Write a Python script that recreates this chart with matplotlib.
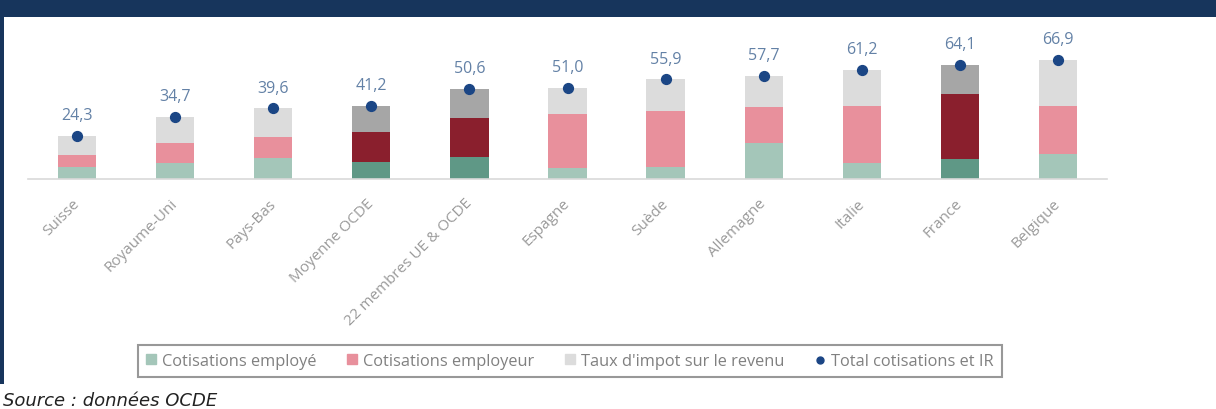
import numpy as np
import matplotlib.pyplot as plt
from matplotlib.patches import Rectangle, Patch
from matplotlib.lines import Line2D

# data (%)
pays = ['Suisse', 'Royaume-Uni', 'Pays-Bas', 'Moyenne OCDE', '22 membres UE & OCDE',
        'Espagne', 'Suède', 'Allemagne', 'Italie', 'France', 'Belgique']
employe = [6.4, 9.0, 11.8, 9.3, 12.1, 6.2, 6.7, 20.2, 9.0, 11.0, 13.7]
employeur = [6.7, 11.3, 11.8, 16.9, 22.0, 30.2, 31.6, 20.0, 32.1, 36.6, 27.3]
impot = [11.2, 14.4, 16.0, 15.0, 16.5, 14.6, 17.6, 17.5, 20.1, 16.5, 25.9]
total = [24.3, 34.7, 39.6, 41.2, 50.6, 51.0, 55.9, 57.7, 61.2, 64.1, 66.9]
mis_en_avant = ['Moyenne OCDE', '22 membres UE & OCDE', 'France']

navy = '#17355c'
c_emp = ['#5f9886' if p in mis_en_avant else '#a4c6b9' for p in pays]
c_pat = ['#8a1f2d' if p in mis_en_avant else '#e8909c' for p in pays]
c_imp = ['#a6a6a6' if p in mis_en_avant else '#dcdcdc' for p in pays]

fig = plt.figure(figsize=(12.16, 4.10), dpi=100)
fig.patch.set_facecolor('white')

# navy frame (top band + left strip)
fig.patches.append(Rectangle((0, 1 - 18 / 410), 1, 18 / 410, transform=fig.transFigure,
                             facecolor=navy, edgecolor='none', zorder=0))
fig.patches.append(Rectangle((0, 25 / 410), 4 / 1216, 1, transform=fig.transFigure,
                             facecolor=navy, edgecolor='none', zorder=0))

ax = fig.add_axes([28 / 1216, 1 - 179.7 / 410, 1079 / 1216, 142 / 410])
x = np.arange(len(pays))
w = 0.39
b1 = np.array(employe)
b2 = b1 + np.array(employeur)
ax.bar(x, employe, w, color=c_emp)
ax.bar(x, employeur, w, bottom=b1, color=c_pat)
ax.bar(x, impot, w, bottom=b2, color=c_imp)
ax.scatter(x, total, s=50, color='#1b4685', zorder=3, clip_on=False)

for xi, t in zip(x, total):
    ax.annotate(f'{t:.1f}'.replace('.', ','), (xi, t), xytext=(0, 15), textcoords='offset points',
                ha='center', va='center', fontsize=11.5, color='#6381a6', family='Open Sans')

ax.set_xlim(-0.5, len(pays) - 0.5)
ax.set_ylim(0, 80)
ax.set_yticks([])
ax.set_xticks(x - 0.05)
ax.set_xticklabels(pays, rotation=45, ha='right', rotation_mode='anchor',
                   fontsize=11, color='#9a9a9a', family='Open Sans')
ax.tick_params(axis='x', length=0, pad=12)
for s in ['top', 'left', 'right']:
    ax.spines[s].set_visible(False)
ax.spines['bottom'].set_color('#d9d9d9')
ax.spines['bottom'].set_linewidth(1.2)

handles = [Patch(color='#a4c6b9'), Patch(color='#e8909c'), Patch(color='#dcdcdc'),
           Line2D([], [], marker='o', ls='none', color='#1b4685', markersize=5)]
labels = ['Cotisations employé', 'Cotisations employeur', "Taux d'impot sur le revenu",
          'Total cotisations et IR']
leg = fig.legend(handles, labels, loc='center', bbox_to_anchor=(570 / 1216, 1 - 362 / 410),
                 ncol=4, frameon=True, fancybox=False, handlelength=0.6, handleheight=0.6,
                 handletextpad=0.35, columnspacing=1.9, borderpad=0.5,
                 prop={'family': 'Open Sans', 'size': 11.8})
for t in leg.get_texts():
    t.set_color('#808080')
leg.get_frame().set_edgecolor('#7f7f7f')
leg.get_frame().set_linewidth(1.5)

fig.text(3 / 1216, 1 - 401 / 410, 'Source : données OCDE', fontsize=13, style='italic',
         color='#222222', va='center', ha='left')

fig.savefig('out.png', dpi=100)
